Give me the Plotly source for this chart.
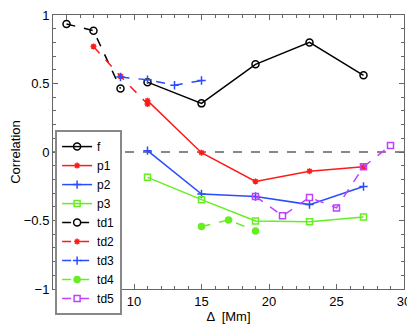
import plotly.graph_objects as go

f_x = [11, 15, 19, 23, 27]
f_y = [0.51, 0.355, 0.64, 0.80, 0.56]
p1_x = [11, 15, 19, 23, 27]
p1_y = [0.375, -0.005, -0.215, -0.14, -0.108]
p2_x = [11, 15, 19, 23, 27]
p2_y = [0.01, -0.307, -0.325, -0.384, -0.252]
p3_x = [11, 15, 19, 23, 27]
p3_y = [-0.185, -0.348, -0.503, -0.51, -0.475]
td1_x = [5, 7, 9]
td1_y = [0.935, 0.885, 0.463]
td2_x = [7, 9, 11]
td2_y = [0.77, 0.553, 0.35]
td3_x = [9, 11, 13, 15]
td3_y = [0.547, 0.527, 0.487, 0.522]
td4_x = [15, 17, 19]
td4_y = [-0.544, -0.496, -0.576]
td5_x = [19, 21, 23, 25, 27, 29]
td5_y = [-0.324, -0.466, -0.332, -0.408, -0.108, 0.048]

BLACK = "#000000"
RED = "#ff1a1a"
BLUE = "#2a4cff"
GREEN = "#66ee22"
MAGENTA = "#c040ff"

series = [
    ("f", f_x, f_y, BLACK, "solid", "circle-open", 7),
    ("p1", p1_x, p1_y, RED, "solid", "asterisk-open", 5),
    ("p2", p2_x, p2_y, BLUE, "solid", "cross-thin-open", 6),
    ("p3", p3_x, p3_y, GREEN, "solid", "square-open", 6),
    ("td1", td1_x, td1_y, BLACK, "dash", "circle-open", 7),
    ("td2", td2_x, td2_y, RED, "dash", "asterisk-open", 5),
    ("td3", td3_x, td3_y, BLUE, "dash", "cross-thin-open", 6),
    ("td4", td4_x, td4_y, GREEN, "dash", "circle", 6),
    ("td5", td5_x, td5_y, MAGENTA, "dash", "square-open", 6),
]

fig = go.Figure()
for name, xs, ys, c, dash, sym, sz in series:
    fig.add_trace(go.Scatter(
        x=xs, y=ys, name=name, mode="lines+markers",
        line=dict(color=c, width=1.5, dash=dash),
        marker=dict(symbol=sym, size=sz, color=c, line=dict(color=c, width=1.5)),
    ))

fig.add_shape(type="line", xref="paper", yref="y", x0=0, x1=1, y0=0, y1=0,
              line=dict(color="#888888", width=2, dash="dash"), layer="below")

axis_common = dict(
    showgrid=False, zeroline=False, showline=True, linecolor="#666666", linewidth=1,
    mirror="allticks", ticks="inside", ticklen=5, tickcolor="#666666",
    tickfont=dict(size=13, color="black"), ticklabeloverflow="allow",
)
fig.update_xaxes(range=[4, 30], tickvals=[5, 10, 15, 20, 25, 30],
                 minor=dict(ticks="inside", ticklen=3, dtick=1, tick0=0, tickcolor="#666666"),
                 title=dict(text="Δ  [Mm]", font=dict(size=13), standoff=2),
                 **axis_common)
fig.update_yaxes(range=[-1, 1], tickvals=[-1, -0.5, 0, 0.5, 1],
                 ticktext=["\u22121", "\u22120.5", "0", "0.5", "1"],
                 minor=dict(ticks="inside", ticklen=3, dtick=0.1, tick0=0, tickcolor="#666666"),
                 title=dict(text="Correlation", font=dict(size=13), standoff=4),
                 **axis_common)

# page body has an 8px default margin; size the figure to fit the 415x325 window
fig.update_layout(
    width=407, height=317,
    margin=dict(l=45, r=11, t=7, b=36, autoexpand=False),
    paper_bgcolor="white", plot_bgcolor="white",
    font=dict(family="Liberation Sans, Arial, sans-serif", size=13, color="black"),
    legend=dict(x=0.006, y=0.58, xanchor="left", yanchor="top",
                bgcolor="white", bordercolor="#888888", borderwidth=2,
                font=dict(size=12), itemwidth=30, tracegroupgap=0),
    showlegend=True,
)

fig.write_html("out.html")
